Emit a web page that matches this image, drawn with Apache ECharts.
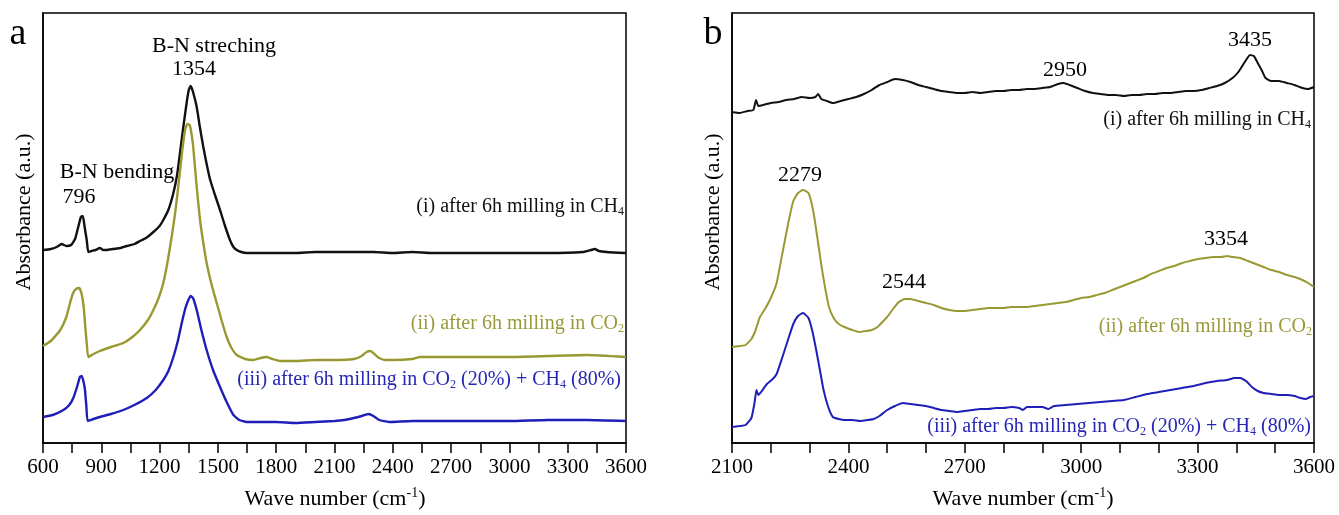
<!DOCTYPE html>
<html>
<head>
<meta charset="utf-8">
<script src="https://cdn.jsdelivr.net/npm/echarts@6/dist/echarts.min.js"></script>
<style>html,body{margin:0;padding:0;background:#fff;}#chart{width:1339px;height:515px;}</style>
</head>
<body>
<div id="chart"></div>
<script>
// ---------- DATA (wave number, absorbance in arbitrary units) ----------
const leftTicks = [600, 900, 1200, 1500, 1800, 2100, 2400, 2700, 3000, 3300, 3600];
const rightTicks = [2100, 2400, 2700, 3000, 3300, 3600];

// Panel a
const aCH4 = [[600,193],[640,194],[670,196],[696,199],[720,197],[745,198],[765,204],[780,215],[795,226],[805,227],[815,215],[825,203],[833,191],[850,192],[870,193],[893,195],[910,193],[927,193],[960,194],[1000,195],[1031,197],[1070,199],[1099,202],[1130,205],[1168,211],[1200,217],[1219,223],[1245,233],[1271,250],[1290,268],[1305,290],[1320,313],[1339,340],[1350,353],[1360,357],[1372,351],[1391,336],[1408,315],[1425,296],[1440,281],[1459,264],[1485,248],[1511,233],[1535,218],[1562,203],[1580,196],[1597,193],[1620,191],[1648,190],[1700,190],[1800,190],[1900,190],[2000,191],[2100,191],[2200,191],[2300,191],[2400,190],[2500,191],[2600,190],[2800,190],[3000,190],[3200,190],[3380,191],[3420,193],[3440,194],[3460,192],[3500,191],[3600,190]];
const aCO2 = [[600,97],[640,102],[689,113],[720,126],[739,140],[755,150],[770,154],[787,155],[800,148],[810,135],[818,115],[825,100],[833,86],[860,89],[893,92],[950,96],[1013,100],[1060,106],[1099,113],[1140,123],[1168,133],[1195,145],[1219,160],[1240,180],[1262,206],[1280,230],[1296,256],[1315,290],[1331,313],[1343,319],[1355,318],[1365,308],[1373,296],[1390,258],[1408,223],[1425,200],[1442,180],[1468,158],[1494,140],[1520,122],[1545,106],[1570,95],[1597,88],[1640,84],[1682,83],[1720,85],[1750,86],[1780,84],[1820,82],[1900,82],[2000,83],[2100,83],[2200,84],[2240,87],[2265,91],[2285,92],[2305,89],[2330,85],[2360,83],[2400,83],[2500,84],[2540,86],[2700,86],[3000,86],[3200,87],[3400,88],[3600,86]];
const aMix = [[600,26],[650,28],[705,33],[735,38],[756,45],[775,56],[790,66],[800,67],[810,60],[816,53],[823,37],[830,22],[860,24],[893,26],[950,29],[1013,33],[1070,38],[1134,45],[1180,53],[1219,63],[1245,72],[1271,86],[1295,103],[1314,120],[1333,135],[1348,143],[1360,147],[1372,145],[1391,133],[1415,113],[1442,93],[1475,73],[1511,56],[1545,41],[1580,28],[1610,23],[1648,21],[1700,21],[1800,21],[1900,20],[2000,21],[2100,22],[2150,23],[2200,25],[2240,27],[2275,29],[2300,27],[2330,23],[2380,21],[2500,22],[2600,22],[2800,22],[3000,22],[3200,23],[3400,23],[3600,22]];

// Panel b
const bCH4 = [[2100,331],[2120,330],[2140,332],[2155,333],[2162,343],[2168,337],[2180,338],[2200,340],[2220,341],[2240,343],[2260,344],[2280,346],[2300,345],[2315,346],[2322,349],[2330,344],[2345,342],[2360,340],[2380,342],[2400,344],[2420,346],[2440,349],[2460,353],[2480,358],[2500,361],[2520,364],[2540,363],[2560,361],[2580,358],[2600,356],[2620,354],[2640,352],[2660,351],[2680,350],[2700,350],[2720,351],[2740,350],[2760,351],[2780,352],[2800,352],[2820,353],[2840,353],[2860,354],[2880,354],[2900,355],[2920,356],[2940,359],[2955,360],[2970,358],[2990,355],[3010,352],[3030,350],[3050,349],[3070,348],[3090,348],[3110,347],[3130,348],[3150,348],[3170,349],[3190,349],[3210,350],[3230,350],[3250,351],[3270,352],[3290,352],[3310,353],[3330,355],[3350,357],[3370,360],[3390,365],[3405,371],[3420,380],[3435,388],[3445,387],[3455,380],[3465,373],[3475,365],[3490,362],[3510,362],[3530,360],[3550,358],[3570,355],[3585,354],[3600,356]];
const bCO2 = [[2100,96],[2120,97],[2135,98],[2150,104],[2160,112],[2165,118],[2172,126],[2185,134],[2200,145],[2215,160],[2230,190],[2245,220],[2258,242],[2270,250],[2283,253],[2297,250],[2305,240],[2312,226],[2322,200],[2331,176],[2340,155],[2350,136],[2362,125],[2375,119],[2390,116],[2410,113],[2427,111],[2445,112],[2460,113],[2475,116],[2490,122],[2500,126],[2515,134],[2530,141],[2545,144],[2560,144],[2580,142],[2600,140],[2620,138],[2640,135],[2660,133],[2680,132],[2700,132],[2720,133],[2740,134],[2760,135],[2780,135],[2800,135],[2820,136],[2840,136],[2860,136],[2880,137],[2900,138],[2920,139],[2940,140],[2960,141],[2980,143],[3000,145],[3020,146],[3040,148],[3060,150],[3080,153],[3100,156],[3120,159],[3140,162],[3160,165],[3180,169],[3200,172],[3220,175],[3240,177],[3260,180],[3280,182],[3300,184],[3320,185],[3340,186],[3360,186],[3376,187],[3390,186],[3410,185],[3430,182],[3450,179],[3470,176],[3490,173],[3510,171],[3530,168],[3550,166],[3570,163],[3585,160],[3600,156]];
const bMix = [[2100,16],[2120,17],[2135,18],[2150,25],[2158,40],[2163,53],[2168,48],[2175,51],[2190,59],[2205,64],[2215,69],[2230,86],[2245,104],[2258,119],[2270,127],[2283,130],[2297,125],[2307,112],[2317,93],[2327,72],[2336,53],[2348,36],[2360,26],[2375,24],[2390,23],[2410,23],[2430,22],[2450,23],[2465,24],[2480,27],[2500,33],[2520,37],[2540,40],[2560,39],[2580,38],[2600,37],[2620,35],[2640,33],[2660,32],[2680,31],[2700,32],[2720,33],[2740,34],[2760,34],[2780,35],[2800,35],[2820,36],[2840,35],[2850,33],[2860,36],[2880,36],[2900,36],[2915,34],[2930,37],[2960,38],[2990,39],[3020,40],[3050,41],[3080,42],[3110,43],[3140,46],[3170,49],[3200,51],[3230,53],[3260,55],[3290,57],[3320,60],[3350,62],[3376,63],[3395,65],[3410,65],[3425,62],[3440,56],[3455,52],[3470,50],[3490,49],[3510,48],[3530,48],[3550,47],[3565,45],[3580,44],[3590,46],[3600,47]];

// ---------- STYLE ----------
const FONT = '"Liberation Serif", "Times New Roman", serif';
const BLACK = '#111111', OLIVE = '#999933', BLUE = '#1f1fb8';
const OLIVE_T = '#9a9a3c', BLUE_T = '#2626b4';

const chart = echarts.init(document.getElementById('chart'), null, {renderer: 'canvas'});

function xAxisCfg(gi, min, max, ticks, minorSplit) {
  return {
    gridIndex: gi, type: 'value', min: min, max: max, interval: 300,
    axisLine: {show: true, onZero: false, lineStyle: {color: '#000', width: 1.5}},
    axisTick: {show: true, inside: false, length: 10, lineStyle: {color: '#000', width: 1.5}},
    minorTick: {show: true, splitNumber: minorSplit, length: 10, lineStyle: {color: '#000', width: 1.5}},
    splitLine: {show: false}, minorSplitLine: {show: false},
    axisLabel: {show: true, color: '#000', fontFamily: FONT, fontSize: 21, margin: 14,
      formatter: v => ticks.indexOf(v) >= 0 ? String(v) : ''}
  };
}
function yAxisCfg(gi) {
  return {gridIndex: gi, type: 'value', min: 0, max: 430,
    axisLine: {show: true, lineStyle: {color: '#000', width: 1.5}},
    axisTick: {show: false}, axisLabel: {show: false}, splitLine: {show: false}};
}
function line(name, xi, data, color, w) {
  return {name: name, type: 'line', xAxisIndex: xi, yAxisIndex: xi, data: data, showSymbol: false,
    symbol: 'none', smooth: 0.15, lineStyle: {color: color, width: w}, animation: false, z: 3};
}
function txt(x, y, text, color, size, align, rich) {
  const st = {x: x, y: y, text: text, fill: color, fontFamily: FONT, fontSize: size,
    font: size + 'px ' + FONT, align: align || 'center', verticalAlign: 'middle'};
  if (rich) st.rich = rich;
  return {type: 'text', x: 0, y: 0, style: st, z: 10};
}
function richSet(color, size) {
  return {
    t: {fill: color, color: color, fontFamily: FONT, fontSize: size},
    s: {fill: color, color: color, fontFamily: FONT, fontSize: Math.round(size * 0.62), padding: [9, 0, 0, 0]},
    p: {fill: color, color: color, fontFamily: FONT, fontSize: Math.round(size * 0.62), padding: [0, 0, 11, 0]}
  };
}
const lblI = '{t|(i) after 6h milling in CH}{s|4}';
const lblII = '{t|(ii) after 6h milling in CO}{s|2}';
const lblIII = '{t|(iii) after 6h milling in CO}{s|2}{t| (20%) + CH}{s|4}{t| (80%)}';
const xTitle = '{t|Wave number (cm}{p|-1}{t|)}';

const graphics = [
  txt(18, 34, 'a', '#000', 38),
  txt(713, 34, 'b', '#000', 38),
  // axis titles
  txt(335, 499, xTitle, '#000', 22, 'center', richSet('#000', 22)),
  txt(1023, 499, xTitle, '#000', 22, 'center', richSet('#000', 22)),
  Object.assign(txt(0, 0, 'Absorbance (a.u.)', '#000', 22), {x: 24, y: 212, rotation: Math.PI / 2}),
  Object.assign(txt(0, 0, 'Absorbance (a.u.)', '#000', 22), {x: 713, y: 212, rotation: Math.PI / 2}),
  // panel a annotations
  txt(214, 46, 'B-N streching', '#000', 22),
  txt(194, 69, '1354', '#000', 22),
  txt(117, 172, 'B-N bending', '#000', 22),
  txt(79, 197, '796', '#000', 22),
  txt(624, 207, lblI, BLACK, 20, 'right', richSet(BLACK, 20)),
  txt(624, 324, lblII, OLIVE_T, 20, 'right', richSet(OLIVE_T, 20)),
  txt(621, 380, lblIII, BLUE_T, 20, 'right', richSet(BLUE_T, 20)),
  // panel b annotations
  txt(1250, 40, '3435', '#000', 22),
  txt(1065, 70, '2950', '#000', 22),
  txt(800, 175, '2279', '#000', 22),
  txt(1226, 239, '3354', '#000', 22),
  txt(904, 282, '2544', '#000', 22),
  txt(1311, 120, lblI, BLACK, 20, 'right', richSet(BLACK, 20)),
  txt(1312, 327, lblII, OLIVE_T, 20, 'right', richSet(OLIVE_T, 20)),
  txt(1311, 427, lblIII, BLUE_T, 20, 'right', richSet(BLUE_T, 20))
];

chart.setOption({
  animation: false,
  backgroundColor: '#fff',
  grid: [
    {left: 43, top: 13, width: 583, height: 430, show: true, borderColor: '#000', borderWidth: 1.5, backgroundColor: 'transparent'},
    {left: 732, top: 13, width: 582, height: 430, show: true, borderColor: '#000', borderWidth: 1.5, backgroundColor: 'transparent'}
  ],
  xAxis: [xAxisCfg(0, 600, 3600, leftTicks, 2), xAxisCfg(1, 2100, 3600, rightTicks, 3)],
  yAxis: [yAxisCfg(0), yAxisCfg(1)],
  series: [
    line('(i) CH4', 0, aCH4, BLACK, 2.4),
    line('(ii) CO2', 0, aCO2, OLIVE, 2.4),
    line('(iii) CO2+CH4', 0, aMix, BLUE, 2.4),
    line('(i) CH4 b', 1, bCH4, BLACK, 2),
    line('(ii) CO2 b', 1, bCO2, OLIVE, 2),
    line('(iii) CO2+CH4 b', 1, bMix, BLUE, 2)
  ],
  graphic: graphics
});
</script>
</body>
</html>
